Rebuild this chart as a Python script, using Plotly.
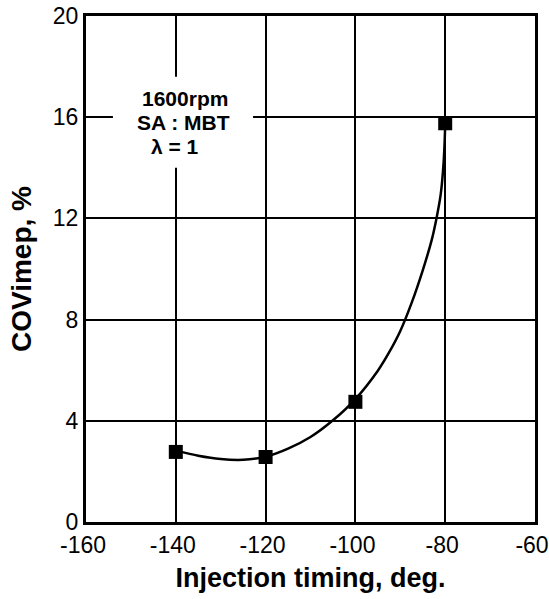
import plotly.graph_objects as go

# measured points
timing = [-140, -120, -100, -80]
covimep = [2.77, 2.57, 4.75, 15.76]

# fitted curve
curve_x = [-140, -135, -130, -125, -120, -115, -110, -105, -100, -95, -92.5, -90, -87.5, -85, -83, -82, -81, -80.5, -80.2, -80]
curve_y = [2.82, 2.62, 2.49, 2.46, 2.58, 2.90, 3.36, 4.02, 4.86, 5.98, 6.7, 7.55, 8.65, 9.95, 11.15, 11.95, 12.95, 13.85, 14.7, 15.7]

x_ticks = [-160, -140, -120, -100, -80, -60]
y_ticks = [0, 4, 8, 12, 16, 20]

notes = ["1600rpm", "SA : MBT", "λ = 1"]

FONT = "Liberation Sans, Arial, sans-serif"

fig = go.Figure()
fig.add_trace(go.Scatter(x=curve_x, y=curve_y, mode="lines",
                         line=dict(color="black", width=2.5, shape="spline", smoothing=0.8),
                         hoverinfo="skip", showlegend=False))
fig.add_trace(go.Scatter(x=timing, y=covimep, mode="markers",
                         marker=dict(symbol="square", size=14, color="black"),
                         showlegend=False))

# white box behind the notes (covers gridlines)
fig.add_shape(type="rect", xref="x", yref="y", x0=-154, x1=-122.8, y0=14.0, y1=17.6,
              fillcolor="white", line=dict(width=0), layer="between")

note_pos = [(-137.9, 16.75), (-138.3, 15.8), (-140.2, 14.85)]
for t, (nx, ny) in zip(notes, note_pos):
    fig.add_annotation(x=nx, y=ny, xref="x", yref="y", text="<b>%s</b>" % t, showarrow=False,
                       font=dict(family=FONT, size=21, color="black"))

axis_common = dict(showgrid=True, gridcolor="black", gridwidth=2, zeroline=False,
                   showline=True, linecolor="black", linewidth=3, mirror=True,
                   ticks="", automargin=False, ticklabeloverflow="allow",
                   tickfont=dict(family=FONT, size=23, color="black"))

fig.update_xaxes(range=[-160, -60], tickvals=x_ticks, ticktext=[str(v) for v in x_ticks],
                 ticklabelshift=-3,
                 title=dict(text="<b>Injection timing, deg.</b>", standoff=12,
                            font=dict(family=FONT, size=27, color="black")),
                 **axis_common)
fig.update_yaxes(range=[0, 20], tickvals=y_ticks, ticktext=[str(v) for v in y_ticks],
                 title=dict(text="<b>COVimep, %</b>", standoff=14,
                            font=dict(family=FONT, size=28, color="black")),
                 **axis_common)

fig.update_layout(width=549, height=599, margin=dict(l=86, r=14, t=16, b=77),
                  plot_bgcolor="white", paper_bgcolor="white")

fig.write_html("out.html", config={"displayModeBar": False},
               post_script="document.body.style.margin='0px';document.body.style.overflow='hidden';")
